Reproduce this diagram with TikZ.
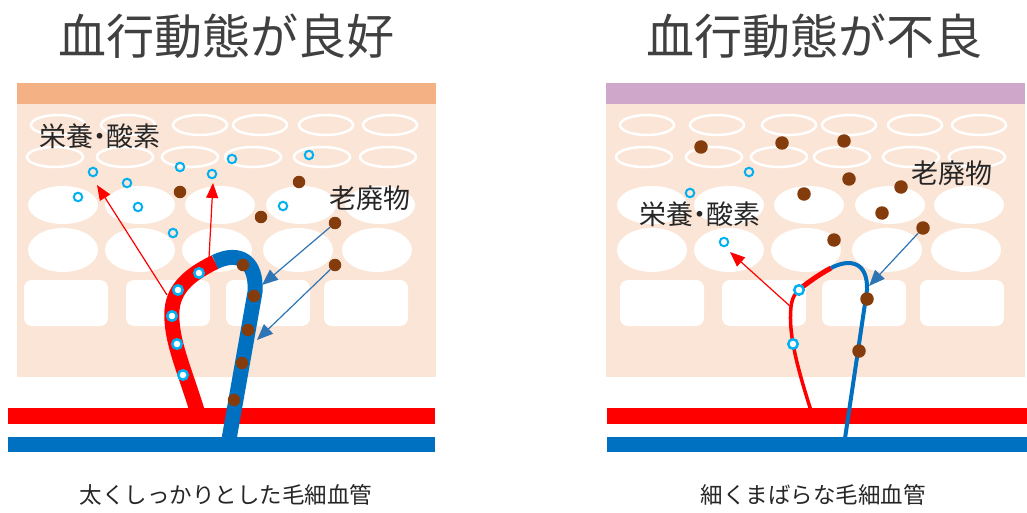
\documentclass[tikz,border=0pt]{standalone}
\usepackage{fontspec}
\newfontfamily\jp{Noto Sans CJK JP}
\newfontfamily\jpp[RawFeature=+palt]{Noto Sans CJK JP}
\usetikzlibrary{arrows.meta}
\definecolor{skin}{HTML}{FBE5D6}
\definecolor{bandok}{HTML}{F4B183}
\definecolor{bandng}{HTML}{CFA7CB}
\definecolor{art}{HTML}{FF0000}
\definecolor{ven}{HTML}{0070C0}
\definecolor{oxy}{HTML}{00B0F0}
\definecolor{waste}{HTML}{843C0C}
\definecolor{flow}{HTML}{2E75B6}
\definecolor{ink}{HTML}{404040}
\definecolor{labink}{HTML}{262626}

% one block of tissue: top band, skin layer, cell rows
\newcommand\tissue[3]{%
  \begin{scope}[shift={(#1,0)}]
    \fill[#2] (17,83) rectangle (436,104);
    \fill[skin] (17,104) rectangle (436,377);
    \foreach \cx in {58,128,200,260,326,390}
      \draw[cellring] (\cx,125) ellipse [x radius=27, y radius=10];
    \foreach \cx in {55,125,190,253,322,388}
      \draw[cellring] (\cx,157) ellipse [x radius=28, y radius=10];
    \foreach \cx in {63,140,220,301,380}
      \fill[white] (\cx,205) ellipse [x radius=35, y radius=19];
    \foreach \cx in {63,140,217,298,377}
      \fill[white] (\cx,250) ellipse [x radius=35, y radius=22];
    \foreach \lx in {24,126,226,324}
      \fill[white, rounded corners=8pt] (\lx+#3,280) rectangle (\lx+84+#3,326);
  \end{scope}}

\begin{document}
\begin{tikzpicture}[x=1pt, y=-1pt,
  cellring/.style={draw=white, line width=2.5pt},
  title/.style={font=\jp\fontsize{48}{48}\selectfont, text=ink, inner sep=0pt},
  lab/.style={font=\jpp\fontsize{27}{27}\selectfont, text=labink, inner sep=0pt},
  caption/.style={font=\jp\fontsize{22.5}{22.5}\selectfont, text=labink, inner sep=0pt},
  oring/.style={circle, draw=oxy, line width=2pt, inner sep=0pt, minimum size=8.5pt},
  oncap/.style={circle, draw=oxy, fill=white, line width=2.5pt, inner sep=0pt, minimum size=9.5pt},
  wdot/.style={circle, fill=waste, inner sep=0pt, minimum size=12.5pt},
  wbig/.style={circle, fill=waste, inner sep=0pt, minimum size=13.5pt},
  rarrow/.style={draw=art, line width=1.2pt, -{Triangle[length=15pt, width=12pt]}},
  barrow/.style={draw=flow, line width=1.2pt, -{Triangle[length=16pt, width=13pt]}},
  thickart/.style={draw=art, line width=15pt},
  thickven/.style={draw=ven, line width=15pt},
]
\useasboundingbox (0,0) rectangle (1027,513);

% ---------- titles ----------
\node[title] (titleL) at (226,36) {血行動態が良好};
\node[title] (titleR) at (814,36) {血行動態が不良};

% ---------- tissue blocks ----------
\tissue{0}{bandok}{0}
\tissue{589}{bandng}{7}

% ---------- arteriole and venule ----------
\fill[art] (8,408) rectangle (435,424);
\fill[ven] (8,437) rectangle (435,452);
\fill[art] (607,408) rectangle (1027,424);
\fill[ven] (607,437) rectangle (1027,452);

% ---------- healthy capillary loop ----------
\coordinate (jL) at (215,262);
\draw[thickart] (199,417) .. controls (185,370) and (170,340) .. (172,310)
                .. controls (174,285) and (195,272) .. (jL);
\draw[thickven] (jL) .. controls (240,250) and (257,262) .. (255,292) -- (228,445);

\node[oncap] (cL1) at (199,273) {};
\node[oncap] (cL2) at (178,290) {};
\node[oncap] (cL3) at (172,316) {};
\node[oncap] (cL4) at (177,344) {};
\node[oncap] (cL5) at (183,375) {};
\node[wdot] (vL1) at (243,265) {};
\node[wdot] (vL2) at (254,296) {};
\node[wdot] (vL3) at (248,330) {};
\node[wdot] (vL4) at (242,363) {};
\node[wdot] (vL5) at (234,400) {};

% nutrients and oxygen in the tissue
\node[oring] (oL1) at (93,172) {};
\node[oring] (oL2) at (127,183) {};
\node[oring] (oL3) at (78,197) {};
\node[oring] (oL4) at (138,207) {};
\node[oring] (oL5) at (180,167) {};
\node[oring] (oL6) at (212,174) {};
\node[oring] (oL7) at (232,159) {};
\node[oring] (oL8) at (309,155) {};
\node[oring] (oL9) at (283,206) {};
\node[oring] (oL10) at (173,233) {};
% waste products in the tissue
\node[wdot] (wL1) at (180,192) {};
\node[wdot] (wL2) at (299,182) {};
\node[wdot] (wL3) at (261,217) {};
\node[wdot] (wL4) at (335,223) {};
\node[wdot] (wL5) at (335,265) {};

% exchange arrows
\coordinate (raL1s) at (167,295);
\coordinate (raL1e) at (97,185);
\coordinate (raL2s) at (209,258);
\coordinate (raL2e) at (213,183);
\draw[rarrow] (raL1s) -- (raL1e);
\draw[rarrow] (raL2s) -- (raL2e);
\coordinate (baL1e) at (262,285);
\coordinate (baL2e) at (257,340);
\draw[barrow] (wL4) -- (baL1e);
\draw[barrow] (wL5) -- (baL2e);

\node[lab] (nutL) at (100,136) {栄養・酸素};
\node[lab] (wasteL) at (370,198) {老廃物};

% ---------- poor capillary loop ----------
\coordinate (kR) at (791,307);
\coordinate (mR) at (801,288);
\coordinate (jR) at (831,268);
\draw[draw=art, line width=3.5pt] (813,417) .. controls (798,370) and (788,335) .. (kR)
      .. controls (792,297) and (796,292) .. (mR);
\draw[draw=art, line width=5pt] (mR) .. controls (810,281) and (820,274) .. (jR);
\draw[draw=ven, line width=4pt] (jR) .. controls (850,258) and (868,262) .. (867,290) -- (844,445);

\node[oncap] (cR1) at (799,290) {};
\node[oncap] (cR2) at (793,344) {};
\node[wbig] (vR1) at (867,299) {};
\node[wbig] (vR2) at (859,351) {};

\node[oring] (oR1) at (749,172) {};
\node[oring] (oR2) at (690,193) {};
\node[oring] (oR3) at (724,242) {};
\node[wbig] (wR1) at (701,147) {};
\node[wbig] (wR2) at (782,143) {};
\node[wbig] (wR3) at (844,141) {};
\node[wbig] (wR4) at (849,179) {};
\node[wbig] (wR5) at (804,194) {};
\node[wbig] (wR6) at (901,187) {};
\node[wbig] (wR7) at (882,213) {};
\node[wbig] (wR8) at (923,228) {};
\node[wbig] (wR9) at (834,240) {};

\coordinate (raR1e) at (730,252);
\draw[rarrow] (kR) -- (raR1e);
\coordinate (baR1e) at (869,286);
\draw[barrow] (wR8) -- (baR1e);

\node[lab] (nutR) at (700,214) {栄養・酸素};
\node[lab] (wasteR) at (952,173) {老廃物};

% ---------- captions ----------
\node[caption] (capL) at (226,495) {太くしっかりとした毛細血管};
\node[caption] (capR) at (813,495) {細くまばらな毛細血管};
\end{tikzpicture}
\end{document}
